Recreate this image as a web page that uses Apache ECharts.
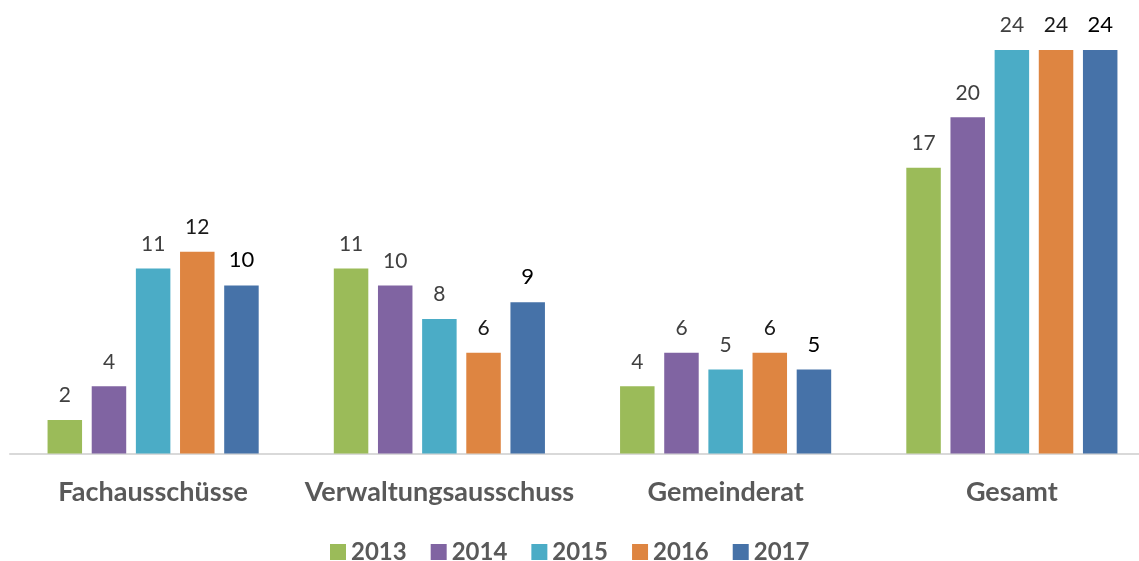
<!DOCTYPE html>
<html>
<head>
<meta charset="utf-8">
<script src="https://cdn.jsdelivr.net/npm/echarts@6/dist/echarts.min.js"></script>
<style>
  html, body { margin: 0; padding: 0; background: #fff; overflow: hidden; }
  /* a bit wider than the window: the axis runs past the right edge in the original */
  #chart { width: 1160px; height: 561px; }
</style>
</head>
<body>
<div id="chart"></div>
<script>
  // data
  var categories = ['Fachausschüsse', 'Verwaltungsausschuss', 'Gemeinderat', 'Gesamt'];
  var years = ['2013', '2014', '2015', '2016', '2017'];
  var values2013 = [2, 11, 4, 17];
  var values2014 = [4, 10, 6, 20];
  var values2015 = [11, 8, 5, 24];
  var values2016 = [12, 6, 6, 24];
  var values2017 = [10, 9, 5, 24];

  var seriesValues = [values2013, values2014, values2015, values2016, values2017];
  var colors = ['#9BBB59', '#8064A2', '#4BACC6', '#DE8541', '#4672A8'];
  var labelColors = ['#404040', '#404040', '#404040', '#1a1a1a', '#000000'];
  var labelSizes = [21, 21, 21, 21, 22];

  var chart = echarts.init(document.getElementById('chart'));

  var series = [];
  for (var i = 0; i < years.length; i++) {
    series.push({
      name: years[i],
      type: 'bar',
      data: seriesValues[i],
      barWidth: 34.5,
      barGap: '28%',
      itemStyle: { color: colors[i] },
      label: {
        show: true,
        position: 'top',
        distance: 14,
        color: labelColors[i],
        fontFamily: 'Lato',
        fontSize: labelSizes[i]
      }
    });
  }

  chart.setOption({
    animation: false,
    grid: {
      left: 10,
      top: 50,
      width: 1145,
      height: 403.5
    },
    legend: {
      top: 535,
      left: 325,
      itemWidth: 16,
      itemHeight: 16,
      itemGap: 24,
      icon: 'rect',
      textStyle: {
        color: '#595959',
        fontFamily: 'Lato',
        fontWeight: 'bold',
        fontSize: 24
      },
      data: years
    },
    xAxis: {
      type: 'category',
      data: categories,
      axisLine: { lineStyle: { color: '#d9d9d9', width: 2 } },
      axisTick: { show: false },
      axisLabel: {
        interval: 0,
        margin: 25,
        color: '#595959',
        fontFamily: 'Lato',
        fontWeight: 'bold',
        fontSize: 27
      }
    },
    yAxis: {
      type: 'value',
      min: 0,
      max: 24,
      show: false,
      splitLine: { show: false }
    },
    series: series
  });
</script>
</body>
</html>
